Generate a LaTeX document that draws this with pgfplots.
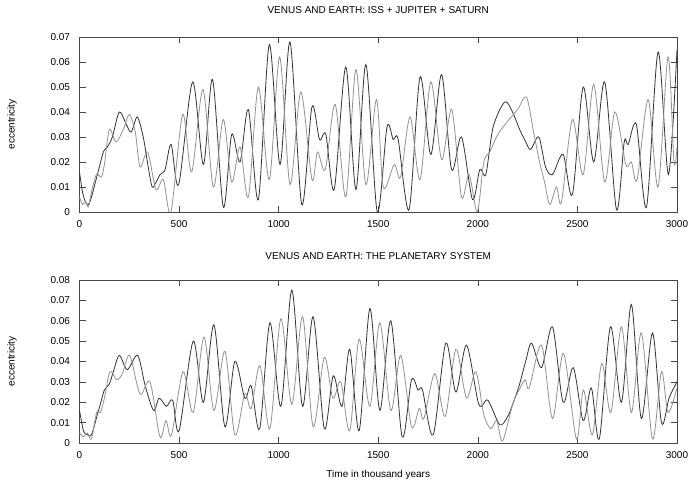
\documentclass[border=0pt]{standalone}
\usepackage{fontspec}
\setmainfont{Liberation Sans}
\usepackage{pgfplots}
\pgfplotsset{compat=1.18}
\definecolor{darkline}{RGB}{50,50,50}
\definecolor{grayline}{RGB}{145,145,145}
\definecolor{framec}{RGB}{70,70,70}
\pgfplotsset{
 myax/.style={
  scale only axis, width=597.5pt, xmin=0, xmax=3000,
  scaled y ticks=false, scaled x ticks=false,
  xtick={0,500,...,3000}, xticklabels={0,500,1000,1500,2000,2500,3000},
  tick label style={font=\fontsize{10}{12}\selectfont},
  xticklabel style={yshift=-5pt},
  yticklabel style={xshift=-6pt},
  major tick length=6pt,
  tick style={framec, line width=0.6pt},
  axis line style={framec, line width=0.6pt},
  ylabel={eccentricity},
  ylabel style={at={(axis description cs:-0.113,0.5)}, anchor=center, font=\fontsize{10}{12}\selectfont},
  title style={at={(axis description cs:0.5,1)}, anchor=center, font=\fontsize{10}{12}\selectfont},
  every axis plot/.append style={line width=0.8pt, smooth, tension=0.5},
 }
}
\begin{document}
\begin{tikzpicture}
\path[use as bounding box] (0,0) rectangle (694pt,489pt);
\begin{axis}[myax, at={(79.5pt,277pt)}, anchor=south west, height=175pt,
  ymin=0, ymax=0.07, ytick={0,0.01,...,0.07},
  yticklabels={0,0.01,0.02,0.03,0.04,0.05,0.06,0.07},
  title={VENUS AND EARTH: ISS + JUPITER + SATURN}, title style={yshift=21pt}]
\addplot[darkline] coordinates {
(0,0.016) (15,0.008) (30,0.004) (45,0.003) (60,0.006) (90,0.015) (120,0.024) (140,0.026) (165,0.030) (200,0.040) (235,0.035) (260,0.032) (290,0.038) (320,0.030) (345,0.018) (365,0.010) (385,0.012) (405,0.015) (430,0.017) (460,0.027) (498,0.011) (568,0.052) (622,0.019) (668,0.053) (722,0.002) (764,0.031) (806,0.020) (848,0.041) (898,0.005) (953,0.067) (1007,0.019) (1057,0.068) (1116,0.003) (1167,0.042) (1205,0.029) (1237,0.031) (1279,0.009) (1337,0.058) (1388,0.009) (1438,0.059) (1495,0.000) (1544,0.034) (1575,0.029) (1600,0.029) (1655,0.001) (1710,0.054) (1764,0.023) (1818,0.055) (1868,0.017) (1918,0.030) (1973,0.005) (2010,0.017) (2040,0.015) (2077,0.034) (2135,0.044) (2174,0.040) (2210,0.033) (2241,0.028) (2265,0.025) (2306,0.030) (2340,0.018) (2375,0.015) (2428,0.023) (2475,0.007) (2529,0.050) (2582,0.020) (2637,0.052) (2696,0.001) (2735,0.028) (2755,0.027) (2796,0.035) (2847,0.002) (2905,0.064) (2957,0.015) (3000,0.065)
};
\addplot[grayline] coordinates {
(0,0.006) (15,0.003) (30,0.004) (45,0.002) (60,0.008) (85,0.015) (110,0.014) (125,0.019) (150,0.033) (183,0.028) (220,0.033) (250,0.039) (280,0.032) (304,0.018) (342,0.024) (384,0.009) (421,0.013) (459,0.000) (518,0.039) (563,0.016) (620,0.049) (672,0.010) (722,0.037) (764,0.012) (806,0.026) (848,0.006) (898,0.050) (953,0.013) (1005,0.062) (1057,0.011) (1111,0.048) (1167,0.013) (1195,0.024) (1234,0.017) (1284,0.043) (1337,0.006) (1388,0.057) (1438,0.011) (1491,0.045) (1525,0.010) (1580,0.019) (1612,0.014) (1660,0.038) (1710,0.013) (1764,0.052) (1818,0.021) (1869,0.041) (1918,0.006) (1956,0.015) (1997,0.000) (2030,0.020) (2060,0.024) (2100,0.031) (2157,0.037) (2200,0.041) (2244,0.046) (2280,0.032) (2310,0.020) (2335,0.012) (2361,0.003) (2395,0.010) (2420,0.004) (2475,0.037) (2529,0.015) (2582,0.051) (2637,0.012) (2688,0.040) (2743,0.019) (2771,0.020) (2800,0.013) (2855,0.045) (2905,0.010) (2955,0.062) (2985,0.020) (3000,0.026)
};
\end{axis}
\begin{axis}[myax, at={(79.5pt,46pt)}, anchor=south west, height=163pt,
  ymin=0, ymax=0.08, ytick={0,0.01,...,0.08},
  yticklabels={0,0.01,0.02,0.03,0.04,0.05,0.06,0.07,0.08},
  title={VENUS AND EARTH: THE PLANETARY SYSTEM}, title style={yshift=18pt},
  xlabel={Time in thousand years},
  xlabel style={at={(axis description cs:0.5,0)}, anchor=center, yshift=-32pt, font=\fontsize{10}{12}\selectfont}]
\addplot[darkline] coordinates {
(0,0.016) (20,0.006) (40,0.004) (60,0.004) (90,0.014) (110,0.021) (125,0.026) (150,0.029) (170,0.035) (200,0.043) (240,0.036) (292,0.043) (330,0.028) (372,0.016) (400,0.022) (436,0.018) (468,0.021) (500,0.006) (571,0.050) (622,0.020) (675,0.058) (730,0.008) (780,0.040) (830,0.022) (862,0.028) (905,0.007) (956,0.059) (1011,0.018) (1066,0.075) (1120,0.018) (1173,0.062) (1229,0.007) (1274,0.033) (1318,0.018) (1357,0.046) (1404,0.006) (1458,0.066) (1508,0.016) (1563,0.060) (1620,0.003) (1667,0.031) (1700,0.026) (1722,0.026) (1776,0.004) (1839,0.049) (1890,0.025) (1943,0.048) (2005,0.019) (2050,0.021) (2110,0.009) (2150,0.013) (2175,0.019) (2207,0.028) (2240,0.040) (2270,0.049) (2320,0.037) (2375,0.057) (2428,0.020) (2479,0.037) (2529,0.011) (2570,0.027) (2610,0.002) (2666,0.057) (2721,0.020) (2771,0.068) (2821,0.012) (2877,0.054) (2922,0.010) (2960,0.022) (3000,0.030)
};
\addplot[grayline] coordinates {
(0,0.005) (20,0.003) (40,0.005) (60,0.002) (86,0.015) (105,0.015) (125,0.022) (153,0.035) (187,0.031) (215,0.034) (252,0.043) (304,0.024) (354,0.030) (404,0.003) (434,0.011) (462,0.004) (520,0.035) (571,0.015) (625,0.052) (675,0.016) (730,0.045) (780,0.004) (830,0.024) (862,0.017) (906,0.038) (956,0.007) (1011,0.061) (1066,0.019) (1120,0.062) (1173,0.008) (1229,0.042) (1272,0.022) (1312,0.030) (1357,0.006) (1404,0.051) (1458,0.018) (1508,0.059) (1563,0.016) (1613,0.043) (1667,0.008) (1706,0.017) (1729,0.012) (1784,0.034) (1836,0.013) (1890,0.046) (1943,0.022) (1990,0.035) (2030,0.014) (2065,0.007) (2095,0.011) (2124,0.001) (2175,0.019) (2207,0.026) (2238,0.031) (2258,0.027) (2320,0.048) (2375,0.012) (2430,0.044) (2495,0.002) (2530,0.026) (2575,0.004) (2622,0.039) (2668,0.015) (2721,0.057) (2771,0.015) (2821,0.054) (2877,0.002) (2922,0.035) (2955,0.015) (3000,0.027)
};
\end{axis}
\end{tikzpicture}
\end{document}
